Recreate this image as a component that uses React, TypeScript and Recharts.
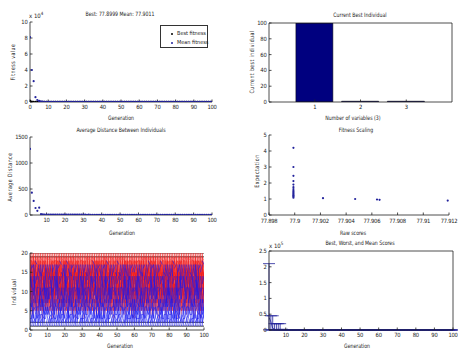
import React from "react";
import { ComposedChart, Scatter, Line, Bar, XAxis, YAxis, ErrorBar } from "recharts";

const W = 458;
const H = 349;
const FONT = "'Liberation Sans Narrow', 'DejaVu Sans Condensed', Arial, sans-serif";
const INK = "#222";
const NAVY = "#00007f";
const DOT = "#23239c";

// best / mean fitness per generation (0..100)
const BEST_FITNESS = [
  1480, 560, 240, 118, 96, 84.2, 80.3, 79.1, 78.6, 78.3,
  78.12, 78.04, 77.98, 77.95, 77.93, 77.92, 77.915, 77.91, 77.908, 77.906,
  77.905, 77.904, 77.904, 77.903, 77.903, 77.902, 77.902, 77.902, 77.901, 77.901,
  77.9, 77.9, 77.9, 77.9, 77.9, 77.9, 77.9, 77.9, 77.9, 77.9,
  77.9, 77.9, 77.9, 77.9, 77.9, 77.9, 77.9, 77.9, 77.9, 77.9,
  77.9, 77.9, 77.9, 77.9, 77.9, 77.9, 77.9, 77.9, 77.9, 77.9,
  77.9, 77.9, 77.9, 77.9, 77.9, 77.9, 77.9, 77.9, 77.9, 77.9,
  77.9, 77.9, 77.9, 77.9, 77.9, 77.9, 77.9, 77.9, 77.9, 77.9,
  77.9, 77.9, 77.9, 77.9, 77.9, 77.9, 77.9, 77.9, 77.9, 77.9,
  77.9, 77.9, 77.9, 77.9, 77.9, 77.9, 77.9, 77.9, 77.9, 77.9,
  77.8999,
];
const MEAN_FITNESS = [
  81000, 40000, 26000, 6000, 2500, 1300, 780, 460, 300, 210,
  165, 138, 121, 109, 101, 96.4, 92.8, 90.1, 88.3, 86.9,
  85.2, 84.6, 83.1, 82.8, 81.9, 81.4, 80.8, 80.6, 80.1, 79.8,
  79.6, 79.4, 79.1, 79.0, 78.8, 78.7, 78.6, 78.5, 78.4, 78.4,
  78.3, 78.3, 78.2, 78.2, 78.2, 78.1, 78.1, 78.1, 78.0, 78.0,
  78.0, 78.0, 77.99, 77.99, 77.98, 77.98, 77.97, 77.97, 77.97, 77.96,
  77.96, 77.96, 77.95, 77.95, 77.95, 77.94, 77.94, 77.94, 77.94, 77.93,
  77.93, 77.93, 77.93, 77.92, 77.92, 77.92, 77.92, 77.92, 77.91, 77.91,
  77.91, 77.91, 77.91, 77.91, 77.905, 77.905, 77.905, 77.904, 77.904, 77.904,
  77.903, 77.903, 77.903, 77.902, 77.902, 77.902, 77.902, 77.901, 77.901, 77.901,
  77.9011,
];
// worst score per generation (1..100)
const WORST_SCORE = [
  210000, 45000, 45000, 20000, 20000, 20000, 20000, 2400, 1100, 640,
  480, 390, 310, 260, 220, 190, 170, 150, 140, 130,
  124, 118, 112, 108, 104, 101, 98.6, 96.2, 94.5, 93.1,
  91.8, 90.6, 89.5, 88.7, 87.9, 87.1, 86.4, 85.8, 85.2, 84.7,
  84.2, 83.8, 83.4, 83.0, 82.7, 82.4, 82.1, 81.8, 81.6, 81.3,
  81.1, 80.9, 80.7, 80.5, 80.3, 80.2, 80.0, 79.9, 79.7, 79.6,
  79.5, 79.4, 79.3, 79.2, 79.1, 79.0, 78.9, 78.9, 78.8, 78.7,
  78.7, 78.6, 78.6, 78.5, 78.5, 78.4, 78.4, 78.3, 78.3, 78.3,
  78.2, 78.2, 78.2, 78.1, 78.1, 78.1, 78.0, 78.0, 78.0, 78.0,
  78.0, 78.0, 77.99, 77.98, 77.97, 77.96, 77.95, 77.94, 77.93, 77.912,
];
// average distance between individuals (1..100)
const AVG_DISTANCE = [
  1270, 430, 270, 135, 80, 140, 16, 12, 10, 9,
  8.6, 8.1, 7.9, 7.4, 7.8, 7.1, 6.9, 7.2, 6.6, 6.4,
  6.8, 6.1, 6.3, 5.9, 6.2, 5.7, 5.8, 5.5, 5.9, 5.3,
  5.6, 5.1, 5.4, 5.0, 5.2, 4.8, 5.1, 4.7, 4.9, 4.6,
  4.8, 4.4, 4.7, 4.3, 4.5, 4.2, 4.4, 4.1, 4.3, 4.0,
  4.2, 3.9, 4.1, 3.8, 4.0, 3.7, 3.9, 3.7, 3.8, 3.6,
  3.7, 3.5, 3.6, 3.4, 3.6, 3.3, 3.5, 3.3, 3.4, 3.2,
  3.3, 3.1, 3.3, 3.0, 3.2, 3.0, 3.1, 2.9, 3.0, 2.9,
  2.9, 2.8, 2.9, 2.7, 2.8, 2.7, 2.8, 2.6, 2.7, 2.6,
  2.6, 2.5, 2.6, 2.4, 2.5, 2.4, 2.5, 2.3, 2.4, 2.3,
];
// current best individual
const VARIABLES = [1, 2, 3];
const BEST_INDIVIDUAL = [99.9, 1.0, 1.0];
// fitness scaling
const RAW_SCORES = [
  77.8999, 77.8999, 77.8999, 77.8999, 77.8999, 77.8999, 77.8999, 77.8999, 77.8999, 77.8999,
  77.8999, 77.8999, 77.8999, 77.8999, 77.8999, 77.9022, 77.9047, 77.9064, 77.9066, 77.9119,
];
const EXPECTATION = [
  4.2, 3.0, 2.45, 2.12, 1.9, 1.74, 1.62, 1.52, 1.44, 1.37,
  1.31, 1.25, 1.2, 1.15, 1.08, 1.05, 1.0, 0.97, 0.95, 0.9,
];
// genealogy: parents per generation pattern (a=1 ... t=20)
const ELITE_ROWS = [1, 2, 19, 20];
const BLUE_ROWS = [3, 4, 6, 8, 11, 14, 17];
const RED_ROWS = [5, 7, 9, 10, 12, 13, 15, 16, 18];
const BLUE_PARENTS = ["acfbkhm", "baeqmci", "dhabjfo", "cagdnbk", "ebihcpa", "afckdgn", "bdjaeoi", "gacfbhp", "cebmaif", "hbdaglr"];
const RED_PARENTS = [
  "tjpeqmsgrkolhtnfsd", "qlthdrosjnmtfpiskq", "sgnqkteplrjohmtcqf", "pkrftjlsiqnhoetmrg", "rmjsgptkqfnlhrtdoi",
  "titmnqfrkshpjogles", "ohskqtjrmfpnigtlse", "snqjrlhtpdmoskgrft", "qtfkslojrgntipmhqe", "mrtisnkqehptjflros",
];
const GEN_PATTERN =
  "3719046285" + "5082317964" + "1946702853" + "8260539147" + "4371985026" +
  "9605148372" + "2834670591" + "7150293648" + "6497821035" + "0563418729";

const GEN_TICKS = [0, 10, 20, 30, 40, 50, 60, 70, 80, 90, 100];
const GEN_TICKS_1 = [10, 20, 30, 40, 50, 60, 70, 80, 90, 100];
const RAW_TICKS = [77.898, 77.9, 77.902, 77.904, 77.906, 77.908, 77.91, 77.912];

// plot rectangle -> chart margin (axes get 1px of room so they still render)
const frame = (x0: number, y0: number, x1: number, y1: number, box = false) => ({
  top: y0 - (box ? 1 : 0), left: x0 - 1, right: W - x1 - (box ? 1 : 0), bottom: H - y1 - 1,
});
const tickStyle = { fontSize: 5.8, fill: INK, fontFamily: FONT, letterSpacing: -0.25 };
const lineStyle = { stroke: INK, strokeWidth: 0.8 };
const xBase = { type: "number" as const, dataKey: "x", height: 1, tick: tickStyle, tickSize: -2.5, tickMargin: 5, axisLine: lineStyle, tickLine: lineStyle, interval: 0 as const, allowDataOverflow: true };
const yBase = { type: "number" as const, dataKey: "y", width: 1, tick: tickStyle, tickSize: -2.5, tickMargin: 5, axisLine: lineStyle, tickLine: lineStyle, interval: 0 as const, allowDataOverflow: true };

const dot = (r: number) => (p: any) => <circle cx={p.cx} cy={p.cy} r={r} fill={p.fill} />;
const letter = (s: string, i: number) => s.charCodeAt(i) - 96;

const bestRows = BEST_FITNESS.map((y, x) => ({ x, y }));
const meanRows = MEAN_FITNESS.map((y, x) => ({ x, y }));
const distRows = AVG_DISTANCE.map((y, i) => ({ x: i + 1, y }));
const barRows = VARIABLES.map((x, i) => ({ x, y: BEST_INDIVIDUAL[i] }));
const scaleRows = RAW_SCORES.map((x, i) => ({ x, y: EXPECTATION[i] }));
const rangeRows = WORST_SCORE.map((worst, i) => {
  const mean = MEAN_FITNESS[i + 1];
  const best = BEST_FITNESS[i + 1];
  return { x: i + 1, y: mean, err: [mean - best, worst - mean] };
});

function genealogy() {
  const red: any[] = [];
  const blue: any[] = [];
  const black: any[] = [];
  for (let g = 0; g < GEN_PATTERN.length; g++) {
    const p = Number(GEN_PATTERN[g]);
    ELITE_ROWS.forEach((row) => black.push({ x: g, y: row }, { x: g + 1, y: row }, { x: g + 1, y: null }));
    BLUE_ROWS.forEach((row, k) => blue.push({ x: g, y: letter(BLUE_PARENTS[p], k) }, { x: g + 1, y: row }, { x: g + 1, y: null }));
    RED_ROWS.forEach((row, k) => {
      red.push({ x: g, y: letter(RED_PARENTS[p], 2 * k) }, { x: g + 1, y: row }, { x: g + 1, y: null });
      red.push({ x: g, y: letter(RED_PARENTS[p], 2 * k + 1) }, { x: g + 1, y: row }, { x: g + 1, y: null });
    });
  }
  return { red, blue, black };
}
const family = genealogy();

function Txt({ x, y, size = 6, rotate = false, spacing = 0, children }: any) {
  return (
    <div
      style={{
        position: "absolute", left: x, top: y, fontSize: size, lineHeight: 1, whiteSpace: "nowrap",
        letterSpacing: spacing, transform: `translate(-50%, -50%)${rotate ? " rotate(-90deg)" : ""} scaleX(0.86)`,
      }}
    >
      {children}
    </div>
  );
}

const layer: React.CSSProperties = { position: "absolute", left: 0, top: 0 };

export default function App() {
  return (
    <div style={{ position: "absolute", left: 0, top: 0, width: W, height: H, background: "#fff", overflow: "hidden", fontFamily: FONT, color: INK }}>
      {/* fitness value */}
      <div style={layer}>
        <ComposedChart width={W} height={H} margin={frame(30, 22, 212, 102)}>
          <XAxis {...xBase} domain={[0, 100]} ticks={GEN_TICKS} />
          <YAxis {...yBase} domain={[0, 100000]} ticks={[0, 20000, 40000, 60000, 80000, 100000]} tickFormatter={(v) => String(v / 10000)} />
          <Scatter data={bestRows} fill="#000" shape={dot(1.1)} isAnimationActive={false} />
          <Scatter data={meanRows} fill={DOT} shape={dot(1.1)} isAnimationActive={false} />
        </ComposedChart>
      </div>
      {/* current best individual */}
      <div style={layer}>
        <ComposedChart width={W} height={H} data={barRows} margin={frame(269, 23, 452, 102, true)}>
          <XAxis {...xBase} domain={[0, 4]} ticks={VARIABLES} />
          <YAxis {...yBase} domain={[0, 100]} ticks={[0, 20, 40, 60, 80, 100]} />
          <XAxis {...xBase} xAxisId="top" orientation="top" domain={[0, 4]} ticks={VARIABLES} tick={false} />
          <YAxis {...yBase} yAxisId="right" orientation="right" domain={[0, 100]} ticks={[0, 20, 40, 60, 80, 100]} tick={false} />
          <Bar dataKey="y" barSize={37} fill={NAVY} stroke="#000" strokeWidth={0.5} isAnimationActive={false} />
        </ComposedChart>
      </div>
      {/* average distance */}
      <div style={layer}>
        <ComposedChart width={W} height={H} margin={frame(30, 137, 212, 215)}>
          <XAxis {...xBase} domain={[1, 100]} ticks={GEN_TICKS_1} />
          <YAxis {...yBase} domain={[0, 1500]} ticks={[0, 500, 1000, 1500]} />
          <Scatter data={distRows} fill={DOT} shape={dot(1.1)} isAnimationActive={false} />
        </ComposedChart>
      </div>
      {/* fitness scaling */}
      <div style={layer}>
        <ComposedChart width={W} height={H} margin={frame(269, 135, 449, 215)}>
          <XAxis {...xBase} domain={[77.898, 77.912]} ticks={RAW_TICKS} tickMargin={6} tickFormatter={(v) => String(parseFloat(Number(v).toFixed(3)))} />
          <YAxis {...yBase} domain={[0, 5]} ticks={[0, 1, 2, 3, 4, 5]} />
          <Scatter data={scaleRows} fill={DOT} shape={dot(1.1)} isAnimationActive={false} />
        </ComposedChart>
      </div>
      {/* genealogy */}
      <div style={layer}>
        <ComposedChart width={W} height={H} margin={frame(30, 253, 204, 330)}>
          <XAxis {...xBase} domain={[0, 100]} ticks={GEN_TICKS} />
          <YAxis {...yBase} domain={[0, 20]} ticks={[0, 5, 10, 15, 20]} />
          <Line data={family.black} dataKey="y" stroke="#000" strokeWidth={0.8} dot={false} connectNulls={false} isAnimationActive={false} />
          <Line data={family.red} dataKey="y" stroke="#f01818" strokeWidth={0.45} dot={false} connectNulls={false} isAnimationActive={false} />
          <Line data={family.blue} dataKey="y" stroke="#1818f0" strokeWidth={0.6} dot={false} connectNulls={false} isAnimationActive={false} />
        </ComposedChart>
      </div>
      {/* best, worst, mean scores */}
      <div style={layer}>
        <ComposedChart width={W} height={H} margin={frame(269, 251, 453, 330, true)}>
          <XAxis {...xBase} domain={[1, 100]} ticks={GEN_TICKS_1} />
          <YAxis {...yBase} domain={[0, 250000]} ticks={[0, 50000, 100000, 150000, 200000, 250000]} tickFormatter={(v) => String(v / 100000)} />
          <XAxis {...xBase} xAxisId="top" orientation="top" domain={[1, 100]} ticks={GEN_TICKS_1} tick={false} />
          <YAxis {...yBase} yAxisId="right" orientation="right" domain={[0, 250000]} ticks={[0, 50000, 100000, 150000, 200000, 250000]} tick={false} />
          <Line data={rangeRows} dataKey="y" stroke={DOT} strokeWidth={0.8} dot={false} isAnimationActive={false}>
            <ErrorBar dataKey="err" direction="y" width={6} stroke={DOT} strokeWidth={0.8} />
          </Line>
        </ComposedChart>
      </div>

      {/* texts */}
      <Txt x={120} y={14}>Best: 77.8999 Mean: 77.9011</Txt>
      <div style={{ position: "absolute", left: 29, top: 12, fontSize: 6, lineHeight: 1, whiteSpace: "nowrap" }}>
        x 10<sup style={{ fontSize: 4.5, verticalAlign: 3 }}>4</sup>
      </div>
      <Txt x={13} y={62} rotate spacing={0.6}>Fitness value</Txt>
      <Txt x={121} y={118}>Generation</Txt>
      <div style={{ position: "absolute", left: 160, top: 25, width: 48, height: 23, border: "0.8px solid #333", boxSizing: "border-box", background: "#fff", fontSize: 5.5, lineHeight: 1, whiteSpace: "nowrap" }}>
        <div style={{ position: "absolute", left: 9.5, top: 6.5, width: 2.2, height: 2.2, borderRadius: 2, background: "#000" }} />
        <div style={{ position: "absolute", left: 16, top: 5 }}>Best fitness</div>
        <div style={{ position: "absolute", left: 9.5, top: 15.5, width: 2.2, height: 2.2, borderRadius: 2, background: DOT }} />
        <div style={{ position: "absolute", left: 16, top: 14 }}>Mean fitness</div>
      </div>

      <Txt x={360} y={15}>Current Best Individual</Txt>
      <Txt x={252} y={62} rotate spacing={0.5}>Current best individual</Txt>
      <Txt x={353} y={118}>Number of variables (3)</Txt>

      <Txt x={121} y={130}>Average Distance Between Individuals</Txt>
      <Txt x={10} y={177} rotate spacing={0.6}>Average Distance</Txt>
      <Txt x={122} y={233}>Generation</Txt>

      <Txt x={356} y={130}>Fitness Scaling</Txt>
      <Txt x={257} y={171} rotate spacing={0.6}>Expectation</Txt>
      <Txt x={353} y={233}>Raw scores</Txt>

      <Txt x={14} y={292} rotate spacing={0.4}>Individual</Txt>
      <Txt x={120} y={346}>Generation</Txt>

      <Txt x={360} y={243}>Best, Worst, and Mean Scores</Txt>
      <div style={{ position: "absolute", left: 269, top: 242, fontSize: 6, lineHeight: 1, whiteSpace: "nowrap" }}>
        x 10<sup style={{ fontSize: 4.5, verticalAlign: 3 }}>5</sup>
      </div>
      <Txt x={357} y={346}>Generation</Txt>
    </div>
  );
}
